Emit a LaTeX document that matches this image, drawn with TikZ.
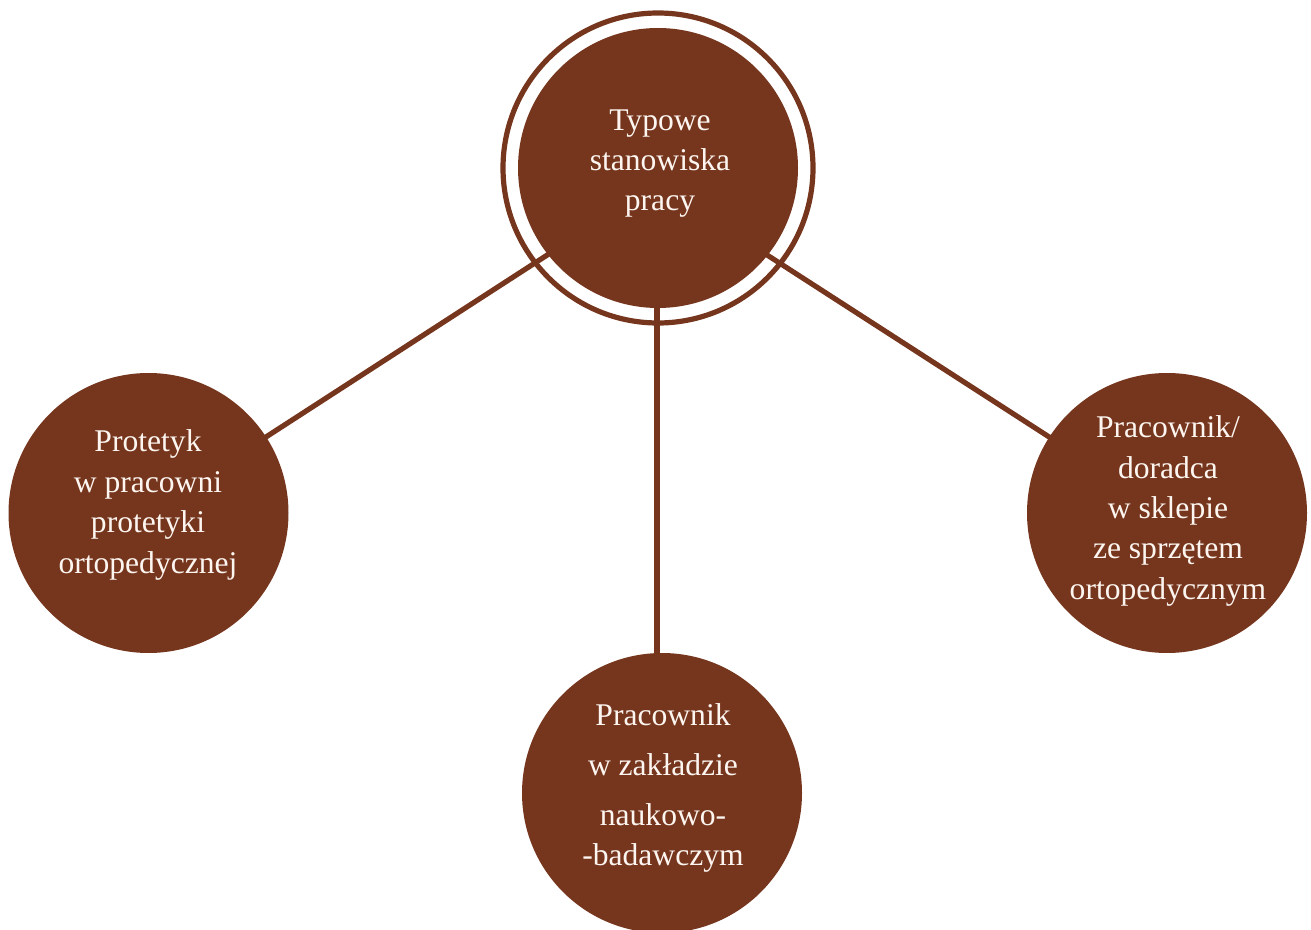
\documentclass[tikz,border=0pt]{standalone}
\usepackage{fontspec}
\setmainfont{Liberation Serif}
\usetikzlibrary{backgrounds}
\definecolor{brownfill}{RGB}{118,54,30}
\definecolor{txtcol}{RGB}{253,246,240}
\begin{document}
\begin{tikzpicture}[x=0.75pt,y=-0.75pt,
  disc/.style={circle, fill=brownfill, draw=none, minimum size=210pt, inner sep=0pt},
  disctext/.style={text=txtcol, align=center, inner sep=0pt, font=\fontsize{23.7}{30.3}\selectfont},
  link/.style={draw=brownfill, line width=3.9pt},
  ringline/.style={draw=brownfill, line width=3.9pt}]
\useasboundingbox (0,0) rectangle (1311,930);
\clip (0,0) rectangle (1311,930);
\coordinate (hub) at (657,184);
\node[disc] (top) at (658,168) {};
\node[circle, minimum size=232.5pt, inner sep=0pt, ringline] (ring) at (658,168) {};
\node[disc] (left) at (148.5,513) {};
\node[disc] (right) at (1167,513) {};
\node[disc] (bottom) at (662,793) {};
\begin{scope}[on background layer]
\draw[link] (hub) -- (left.center);
\draw[link] (hub) -- (right.center);
\draw[link] (hub) -- (hub |- bottom.center);
\end{scope}
\node[disctext] (toptxt) at (660,163.5) {Typowe\\stanowiska\\pracy};
\node[disctext] (lefttxt) at (148,505) {Protetyk\\w pracowni\\protetyki\\ortopedycznej};
\node[disctext] (righttxt) at (1168,511) {Pracownik/\\doradca\\w sklepie\\ze sprzętem\\ortopedycznym};
\node[disctext] (bottomtxt) at (663,788) {Pracownik\\[7pt]w zakładzie\\[7pt]naukowo-\\-badawczym};
\end{tikzpicture}
\end{document}
